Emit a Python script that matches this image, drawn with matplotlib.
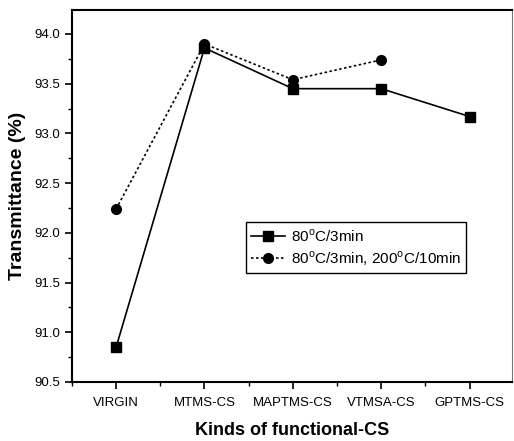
import numpy as np
import matplotlib
matplotlib.use("Agg")
import matplotlib.pyplot as plt
from matplotlib.ticker import MultipleLocator

# data
categories = ["VIRGIN", "MTMS-CS", "MAPTMS-CS", "VTMSA-CS", "GPTMS-CS"]
t_80c_3min = [90.85, 93.86, 93.45, 93.45, 93.17]
t_80c_200c = [92.24, 93.90, 93.54, 93.74]
label_a = "80$^{\\mathregular{o}}$C/3min"
label_b = "80$^{\\mathregular{o}}$C/3min, 200$^{\\mathregular{o}}$C/10min"

plt.rcParams["font.family"] = ["Liberation Sans", "DejaVu Sans"]
plt.rcParams["mathtext.fontset"] = "custom"
plt.rcParams["mathtext.rm"] = "Liberation Sans"

fig = plt.figure(figsize=(5.14, 4.41), dpi=100)
ax = fig.add_axes([0.140, 0.134, 0.856, 0.843])

x = np.arange(len(categories))
ax.plot(x, t_80c_3min, color="black", linestyle="-", linewidth=1.2,
        marker="s", markersize=6.5, label=label_a)
ax.plot(x[:len(t_80c_200c)], t_80c_200c, color="black", linestyle=(0, (1.5, 1.5)),
        linewidth=1.2, marker="o", markersize=7, label=label_b)

ax.set_xlim(-0.5, 4.48)
ax.set_ylim(90.5, 94.24)
ax.set_xticks(x)
ax.set_xticklabels(categories, fontsize=9.5)
ax.xaxis.set_minor_locator(MultipleLocator(0.5))
ax.yaxis.set_major_locator(MultipleLocator(0.5))
ax.yaxis.set_minor_locator(MultipleLocator(0.25))
ax.yaxis.set_major_formatter(matplotlib.ticker.FormatStrFormatter("%.1f"))
ax.tick_params(axis="y", labelsize=9.5)
ax.tick_params(axis="x", which="major", pad=6)
ax.tick_params(which="major", direction="out", length=5, width=1.2)
ax.tick_params(which="minor", direction="out", length=3, width=1.0)

for side in ["left", "bottom", "top"]:
    ax.spines[side].set_linewidth(1.5)
ax.spines["right"].set_linewidth(0.8)
ax.spines["right"].set_color("#777777")

ax.set_xlabel("Kinds of functional-CS", fontsize=13, fontweight="bold", labelpad=9)
ax.set_ylabel("Transmittance (%)", fontsize=14, fontweight="bold", labelpad=6)

leg = ax.legend(loc="lower left", bbox_to_anchor=(0.395, 0.293), fontsize=11,
                fancybox=False, edgecolor="black", framealpha=1,
                handlelength=2.2, handletextpad=0.4, borderpad=0.35,
                labelspacing=0.3, borderaxespad=0)
leg.get_frame().set_linewidth(1.0)

fig.savefig("out.png", dpi=100)
